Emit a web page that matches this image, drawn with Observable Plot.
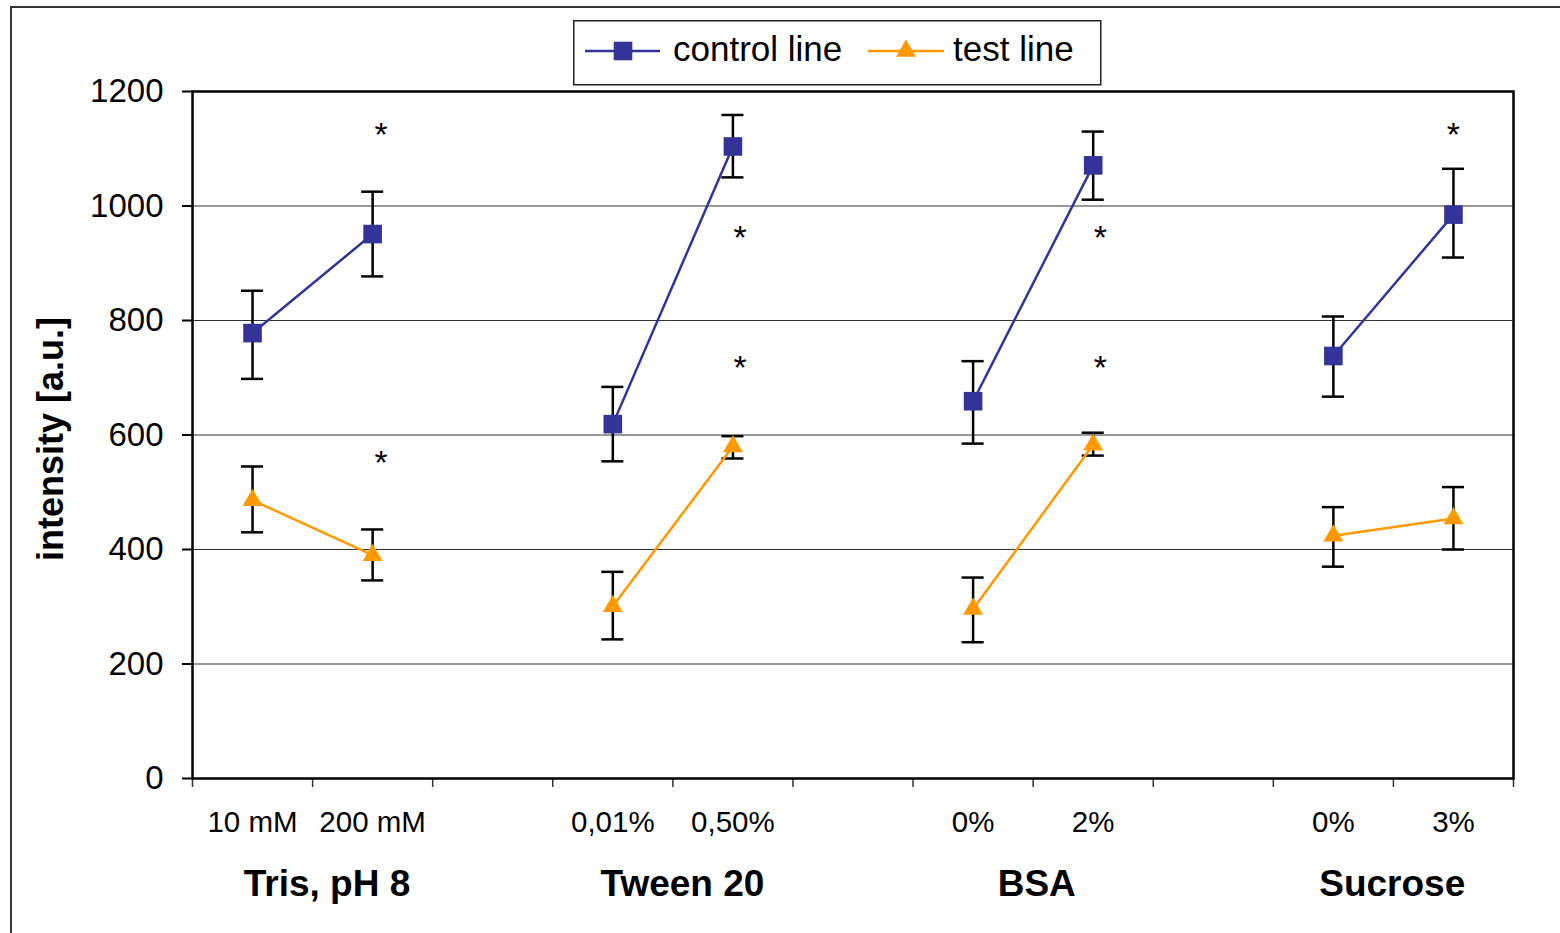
<!DOCTYPE html>
<html>
<head>
<meta charset="utf-8">
<script src="https://cdn.jsdelivr.net/npm/d3@7"></script>
<script src="https://cdn.jsdelivr.net/npm/@observablehq/plot@0.6"></script>
<style>
  html, body { margin: 0; padding: 0; background: #fff; overflow: hidden; }
  #wrap { position: relative; width: 1560px; height: 933px; font-family: "Liberation Sans", Arial, sans-serif; }
  #outer { position: absolute; left: 10px; top: 6px; width: 1600px; height: 1000px; border-left: 2px solid #333; border-top: 2px solid #333; }
  #chart { position: absolute; left: 0; top: 0; }
  #legend { position: absolute; left: 573px; top: 20px; }
</style>
</head>
<body>
<div id="wrap">
  <div id="outer"></div>
  <div id="chart"></div>
  <svg id="legend" width="530" height="67"></svg>
</div>
<script>
// ---- data ----
const categories = ["10 mM", "200 mM", "", "0,01%", "0,50%", "", "0%", "2%", "", "0%", "3%"];
const groups = ["Tris, pH 8", "Tween 20", "BSA", "Sucrose"];
const groupCenters = [1.12, 4.08, 7.03, 9.99];
const slots = [0, 1, 3, 4, 6, 7, 9, 10];
const controlValues = [778, 951, 619, 1104, 659, 1071, 738, 985];
const controlLow    = [698, 877, 554, 1050, 585, 1011, 667, 910];
const controlHigh   = [852, 1025, 684, 1159, 729, 1130, 807, 1065];
const testValues = [486, 390, 301, 580, 296, 583, 424, 454];
const testLow    = [430, 346, 243, 559, 238, 564, 370, 400];
const testHigh   = [545, 435, 361, 598, 351, 604, 474, 509];
const starX      = [1.57, 1.57, 4.56, 4.56, 7.56, 7.56, 10.5];
const starValues = [1127, 555, 948, 721, 948, 721, 1127];
const yTicks = [0, 200, 400, 600, 800, 1000, 1200];
const seriesNames = ["control line", "test line"];
const seriesColors = ["#333399", "#FF9900"];

// ---- tables ----
function rows(vals, lo, hi) {
  return slots.map((s, i) => ({ x: s + 0.5, group: Math.floor(s / 3), v: vals[i], lo: lo[i], hi: hi[i] }));
}
const control = rows(controlValues, controlLow, controlHigh);
const test = rows(testValues, testLow, testHigh);
const all = control.concat(test);
const stars = starX.map((x, i) => ({ x, v: starValues[i] }));
const capHalf = 0.092;

const font = "Liberation Sans, Arial, sans-serif";

const chart = Plot.plot({
  width: 1560,
  height: 933,
  marginLeft: 192,
  marginRight: 47,
  marginTop: 91,
  marginBottom: 155,
  style: { fontFamily: font, background: "transparent", overflow: "visible" },
  x: { type: "linear", domain: [0, categories.length] },
  y: { domain: [0, 1200] },
  marks: [
    Plot.ruleY(yTicks.filter(t => t > 0 && t < 1200), { stroke: "#333", strokeWidth: 1.2 }),
    Plot.axisY({ ticks: yTicks, tickFormat: d => String(d), tickSize: 10, tickPadding: 19, fontSize: 33, label: null, stroke: "#000", strokeWidth: 2, color: "#000" }),
    Plot.axisX({ ticks: d3.range(categories.length + 1), tickFormat: () => "", tickSize: 9, label: null, stroke: "#333", strokeWidth: 1.5 }),
    Plot.text(categories, { x: (d, i) => i + 0.5, text: d => d, frameAnchor: "bottom", dy: 53, fontSize: 29.5, fill: "#000" }),
    Plot.text(groups, { x: (d, i) => groupCenters[i], text: d => d, frameAnchor: "bottom", dy: 117, fontSize: 37, fontWeight: "bold", fill: "#000" }),
    Plot.text(["intensity [a.u.]"], { frameAnchor: "left", textAnchor: "middle", rotate: -90, dx: -141, dy: 4, fontSize: 36, fontWeight: "bold", fill: "#000" }),
    // error bars
    Plot.ruleX(all, { x: "x", y1: "lo", y2: "hi", stroke: "#000", strokeWidth: 2.5 }),
    Plot.ruleY(all, { y: "hi", x1: d => d.x - capHalf, x2: d => d.x + capHalf, stroke: "#000", strokeWidth: 2.5 }),
    Plot.ruleY(all, { y: "lo", x1: d => d.x - capHalf, x2: d => d.x + capHalf, stroke: "#000", strokeWidth: 2.5 }),
    // lines
    Plot.line(control, { x: "x", y: "v", z: "group", stroke: seriesColors[0], strokeWidth: 2.5 }),
    Plot.line(test, { x: "x", y: "v", z: "group", stroke: seriesColors[1], strokeWidth: 2.5 }),
    // markers
    Plot.dot(control, { x: "x", y: "v", symbol: "square", r: 10.5, fill: seriesColors[0], stroke: null }),
    Plot.dot(test, { x: "x", y: "v", symbol: "triangle", r: 7.4, fill: seriesColors[1], stroke: null }),
    // significance stars
    Plot.text(stars, { x: "x", y: "v", text: () => "*", dy: 2, fontSize: 34, fill: "#000" }),
    Plot.frame({ stroke: "#000", strokeWidth: 2.5 })
  ]
});
document.getElementById("chart").appendChild(chart);

// ---- legend ----
const lg = d3.select("#legend");
lg.append("rect").attr("x", 0.75).attr("y", 0.75).attr("width", 527).attr("height", 64)
  .attr("fill", "#fff").attr("stroke", "#222").attr("stroke-width", 1.5);
const items = [
  { x0: 12, x1: 87, cx: 50, tx: 100, sym: d3.symbolSquare, size: Math.PI * 10.5 * 10.5 },
  { x0: 295, x1: 371, cx: 333, tx: 380, sym: d3.symbolTriangle, size: Math.PI * 7.4 * 7.4 }
];
items.forEach((it, i) => {
  lg.append("line").attr("x1", it.x0).attr("x2", it.x1).attr("y1", 31).attr("y2", 31)
    .attr("stroke", seriesColors[i]).attr("stroke-width", 2.5);
  lg.append("path").attr("d", d3.symbol(it.sym, it.size)()).attr("transform", `translate(${it.cx},31)`)
    .attr("fill", seriesColors[i]);
  lg.append("text").attr("x", it.tx).attr("y", 29).attr("dy", "0.35em")
    .attr("font-family", font).attr("font-size", 35).attr("fill", "#000").text(seriesNames[i]);
});
</script>
</body>
</html>
